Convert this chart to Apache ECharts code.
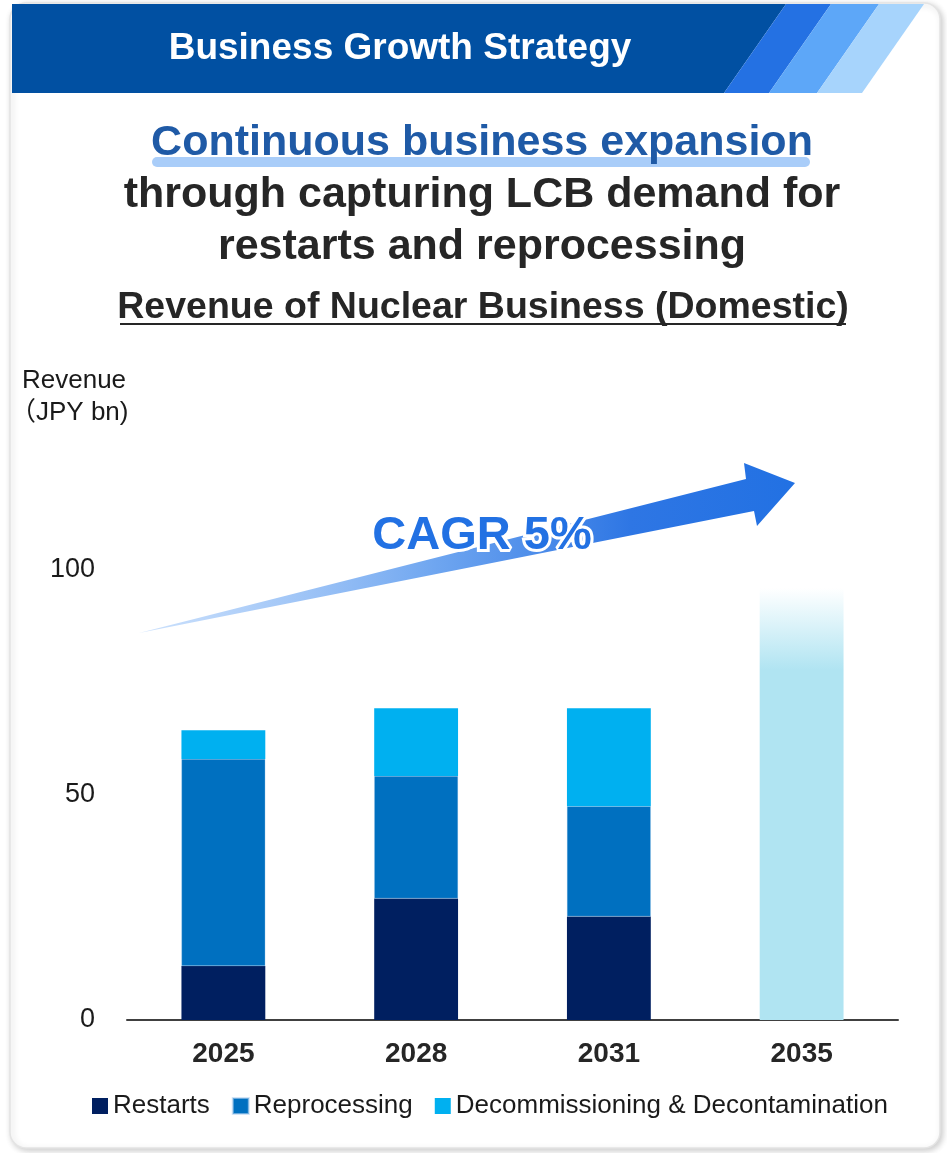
<!DOCTYPE html>
<html><head><meta charset="utf-8">
<script src="https://cdn.jsdelivr.net/npm/echarts@6/dist/echarts.min.js"></script>
<style>html,body{margin:0;padding:0;background:#fff}#c{width:947px;height:1153px}</style>
</head><body><div id="c"></div>
<script>
var categories = ['2025', '2028', '2031', '2035'];
var restarts = [12, 27, 23, null];
var reprocessing = [46, 27.2, 24.5, null];
var decommissioning = [6.4, 15.1, 21.8, null];
var outlook2035 = [null, null, null, 96];
var yTicks = [0, 50, 100];
var seriesNames = ['Restarts', 'Reprocessing', 'Decommissioning & Decontamination'];

var FONT = '"Liberation Sans", Arial, sans-serif';
var chart = echarts.init(document.getElementById('c'), null, {renderer: 'canvas'});

var graphics = [
  {type: 'rect', z: -10, silent: true, shape: {x: 10, y: 3, width: 930, height: 1145, r: 16},
   style: {fill: '#fff', stroke: '#e4e4e4', lineWidth: 1.5, shadowBlur: 6, shadowColor: 'rgba(0,0,0,0.2)', shadowOffsetX: 2, shadowOffsetY: 2}},
  {type: 'polygon', z: -5, silent: true, shape: {points: [[12, 4], [786, 4], [724, 93], [12, 93]]}, style: {fill: '#0150A2'}},
  {type: 'polygon', z: -5, silent: true, shape: {points: [[786, 4], [831, 4], [769, 93], [724, 93]]}, style: {fill: '#2471E3'}},
  {type: 'polygon', z: -5, silent: true, shape: {points: [[831, 4], [879, 4], [817, 93], [769, 93]]}, style: {fill: '#5DA7F8'}},
  {type: 'polygon', z: -5, silent: true, shape: {points: [[879, 4], [924, 4], [862, 93], [817, 93]]}, style: {fill: '#A7D4FC'}},
  {type: 'text', z: 5, silent: true, x: 400, y: 49, style: {text: 'Business Growth Strategy', fill: '#fff', font: 'bold 37px ' + FONT, align: 'center', verticalAlign: 'middle'}},
  {type: 'rect', z: 1, silent: true, shape: {x: 152, y: 157, width: 658, height: 10, r: 5}, style: {fill: '#A9CDF9'}},
  {type: 'text', z: 5, silent: true, x: 482, y: 143, style: {text: 'Continuous business expansion', fill: '#1F5AA6', font: 'bold 43px ' + FONT, align: 'center', verticalAlign: 'middle'}},
  {type: 'text', z: 5, silent: true, x: 482, y: 195, style: {text: 'through capturing LCB demand for', fill: '#262626', font: 'bold 43px ' + FONT, align: 'center', verticalAlign: 'middle'}},
  {type: 'text', z: 5, silent: true, x: 482, y: 247, style: {text: 'restarts and reprocessing', fill: '#262626', font: 'bold 43px ' + FONT, align: 'center', verticalAlign: 'middle'}},
  {type: 'text', z: 5, silent: true, x: 483, y: 308, style: {text: 'Revenue of Nuclear Business (Domestic)', fill: '#262626', font: 'bold 37.5px ' + FONT, align: 'center', verticalAlign: 'middle'}},
  {type: 'line', z: 5, silent: true, shape: {x1: 120, y1: 324, x2: 846, y2: 324}, style: {stroke: '#262626', lineWidth: 2}},
  {type: 'text', z: 5, silent: true, x: 22, y: 381, style: {text: 'Revenue', fill: '#1a1a1a', font: '26px ' + FONT, align: 'left', verticalAlign: 'middle'}},
  {type: 'text', z: 5, silent: true, x: 10, y: 413, style: {text: '（JPY bn)', fill: '#1a1a1a', font: '26px "Liberation Sans", "Noto Sans CJK JP", sans-serif', align: 'left', verticalAlign: 'middle'}},
  {type: 'polygon', z: 3, silent: true, shape: {points: [[139, 633], [746, 479], [744, 463], [795, 483], [757, 526], [754, 511]]},
   style: {fill: new echarts.graphic.LinearGradient(0, 0, 1, 0, [
     {offset: 0, color: 'rgba(170,205,250,0.6)'},
     {offset: 0.45, color: '#6FA6F0'},
     {offset: 0.75, color: '#2E76E4'},
     {offset: 1, color: '#2271E3'}])}},
  {type: 'text', z: 6, silent: true, x: 482, y: 536, style: {text: 'CAGR 5%', fill: '#2271E3', font: 'bold 47px ' + FONT, align: 'center', verticalAlign: 'middle',
   stroke: '#ffffff', lineWidth: 6, shadowBlur: 6, shadowColor: 'rgba(255,255,255,0.9)'}}
];

var option = {
  backgroundColor: '#ffffff',
  animation: false,
  textStyle: {fontFamily: FONT},
  graphic: graphics,
  legend: {
    data: seriesNames,
    left: 87, top: 1088,
    icon: 'rect', itemWidth: 16, itemHeight: 16, itemGap: 22,
    textStyle: {fontSize: 26, color: '#1a1a1a', fontFamily: FONT}
  },
  grid: {left: 127, right: 49, top: 570, bottom: 133},
  xAxis: {
    type: 'category', data: categories,
    axisLine: {lineStyle: {color: '#404040', width: 2}},
    axisTick: {show: false},
    axisLabel: {fontSize: 28, fontWeight: 'bold', color: '#262626', margin: 20, fontFamily: FONT}
  },
  yAxis: {
    type: 'value', min: yTicks[0], max: yTicks[yTicks.length - 1], interval: 50,
    axisLine: {show: false}, axisTick: {show: false}, splitLine: {show: false},
    axisLabel: {fontSize: 27, color: '#1a1a1a', margin: 32, fontFamily: FONT}
  },
  series: [
    {name: seriesNames[0], type: 'bar', stack: 'rev', data: restarts, barWidth: '43.5%', itemStyle: {color: '#001F60'}},
    {name: seriesNames[1], type: 'bar', stack: 'rev', data: reprocessing, itemStyle: {color: '#0070C0', borderColor: 'rgba(180,210,240,0.6)', borderWidth: 0.5}},
    {name: seriesNames[2], type: 'bar', stack: 'rev', data: decommissioning, itemStyle: {color: '#00B0F0'}},
    {name: 'Outlook', type: 'bar', stack: 'rev', data: outlook2035,
     itemStyle: {color: new echarts.graphic.LinearGradient(0, 0, 0, 1, [
       {offset: 0, color: 'rgba(176,228,242,0)'},
       {offset: 0.19, color: '#B0E4F2'},
       {offset: 1, color: '#B0E4F2'}])}}
  ]
};
chart.setOption(option);
</script></body></html>
